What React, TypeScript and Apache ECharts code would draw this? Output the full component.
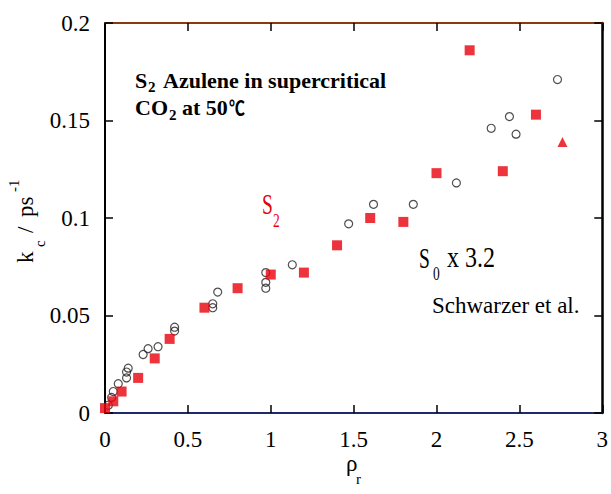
import React, { useEffect, useRef } from "react";
import * as echarts from "echarts";

// S2 (red squares)
const s2X = [0.0, 0.05, 0.1, 0.2, 0.3, 0.39, 0.6, 0.8, 1.0, 1.2, 1.4, 1.6, 1.8, 2.0, 2.2, 2.4, 2.6];
const s2Y = [0.0025, 0.006, 0.011, 0.018, 0.028, 0.038, 0.054, 0.064, 0.071, 0.072, 0.086, 0.1, 0.098, 0.123, 0.186, 0.124, 0.153];
// S0 x 3.2 (open circles)
const s0X = [0.02, 0.04, 0.05, 0.08, 0.13, 0.13, 0.14, 0.23, 0.26, 0.32, 0.42, 0.42, 0.65, 0.65, 0.68, 0.97, 0.97, 0.97, 1.13, 1.47, 1.62, 1.86, 2.12, 2.33, 2.44, 2.48, 2.73];
const s0Y = [0.004, 0.008, 0.011, 0.015, 0.018, 0.021, 0.023, 0.03, 0.033, 0.034, 0.042, 0.044, 0.054, 0.056, 0.062, 0.064, 0.067, 0.072, 0.076, 0.097, 0.107, 0.107, 0.118, 0.146, 0.152, 0.143, 0.171];
// Schwarzer et al. (red triangle)
const swX = [2.76];
const swY = [0.139];

const xTicks = { min: 0, max: 3, interval: 0.5 };
const yTicks = { min: 0, max: 0.2, interval: 0.05 };

const SERIF = "Liberation Serif";
const RED = "#e8000b";

function txt(text: string, x: number, y: number, fontSize: number, opts: any = {}) {
  return {
    type: "text",
    x,
    y,
    scaleX: opts.scaleX ?? 1,
    scaleY: opts.scaleY ?? 1,
    silent: true,
    style: {
      text,
      fontSize,
      fontFamily: opts.family ?? SERIF,
      fontWeight: opts.bold ? "bold" : "normal",
      fill: opts.color ?? "#000",
      align: "left",
      verticalAlign: "middle",
      textAlign: "left",
      textVerticalAlign: "middle",
    },
  };
}

export default function App() {
  const ref = useRef<HTMLDivElement>(null);
  useEffect(() => {
    if (!ref.current) return;
    const chart = echarts.init(ref.current, null, { renderer: "svg" });
    const zip = (xs: number[], ys: number[]) => xs.map((v, i) => [v, ys[i]]);
    const axisCommon = {
      type: "value",
      splitLine: { show: false },
      axisTick: { show: true, inside: true, length: 8, lineStyle: { color: "#000", width: 1.5 } },
    };
    const yLabelGroup = {
      type: "group",
      x: 33,
      y: 263,
      rotation: Math.PI / 2,
      children: [
        txt("k", 0, -7.8, 23),
        txt("c", 16, 7, 15),
        txt("/", 30, -7.8, 23),
        txt("ps", 46, -7.8, 23),
        txt("-1", 71, -19.5, 15),
      ],
    };
    chart.setOption({
      animation: false,
      backgroundColor: "#fff",
      textStyle: { fontFamily: SERIF },
      grid: { left: 105, right: 8, top: 23, bottom: 81 },
      xAxis: [
        {
          ...axisCommon,
          position: "bottom",
          ...xTicks,
          axisLine: { show: true, onZero: false, lineStyle: { color: "#1d2a6b", width: 2 } },
          axisLabel: {
            show: true,
            margin: 15,
            fontSize: 23,
            fontFamily: SERIF,
            color: "#000",
            formatter: (v: number) => String(v),
          },
        },
        {
          ...axisCommon,
          position: "top",
          ...xTicks,
          axisLine: { show: true, onZero: false, lineStyle: { color: "#8a3a10", width: 2 } },
          axisLabel: { show: false },
        },
      ],
      yAxis: [
        {
          ...axisCommon,
          position: "left",
          ...yTicks,
          axisLine: { show: true, onZero: false, lineStyle: { color: "#000", width: 2 } },
          axisLabel: {
            show: true,
            margin: 15,
            fontSize: 23,
            fontFamily: SERIF,
            color: "#000",
            formatter: (v: number) => String(v),
          },
        },
        {
          ...axisCommon,
          position: "right",
          ...yTicks,
          axisLine: { show: true, onZero: false, lineStyle: { color: "#000", width: 2.5 } },
          axisLabel: { show: false },
        },
      ],
      series: [
        {
          name: "S0 x 3.2",
          type: "scatter",
          data: zip(s0X, s0Y),
          symbol: "circle",
          symbolSize: 8,
          itemStyle: { color: "rgba(255,255,255,0)", borderColor: "#222", borderWidth: 1.2 },
          z: 2,
        },
        {
          name: "S2",
          type: "scatter",
          data: zip(s2X, s2Y),
          symbol: "rect",
          symbolSize: 10,
          itemStyle: { color: RED },
          z: 3,
        },
        {
          name: "Schwarzer et al.",
          type: "scatter",
          data: zip(swX, swY),
          symbol: "triangle",
          symbolSize: 10,
          itemStyle: { color: RED },
          z: 3,
        },
      ],
      graphic: [
        txt("S", 135, 80.5, 22, { bold: true }),
        txt("2", 148, 87, 15, { bold: true }),
        txt("Azulene in supercritical", 163, 80.5, 22, { bold: true }),
        txt("CO", 135, 107.5, 22, { bold: true }),
        txt("2", 169, 115, 15, { bold: true }),
        txt("at 50", 182, 107.5, 22, { bold: true }),
        txt("℃", 229, 107.5, 20, { bold: true, family: "Noto Sans CJK SC", scaleX: 0.8 }),
        txt("S", 262, 203, 30, { color: RED, scaleX: 0.65 }),
        txt("2", 273, 221, 18, { color: RED, scaleX: 0.75 }),
        txt("S", 419, 257, 30, { scaleX: 0.65 }),
        txt("0", 433, 274, 18, { scaleX: 0.75 }),
        txt("x 3.2", 447, 257, 30, { scaleX: 0.8 }),
        txt("Schwarzer et al.", 432, 305, 23),
        txt("ρ", 346, 463, 23),
        txt("r", 356, 479, 15),
        yLabelGroup,
      ],
    });
    return () => chart.dispose();
  }, []);
  return (
    <div
      ref={ref}
      style={{ position: "fixed", left: 0, top: 0, width: 611, height: 494, background: "#fff" }}
    />
  );
}
